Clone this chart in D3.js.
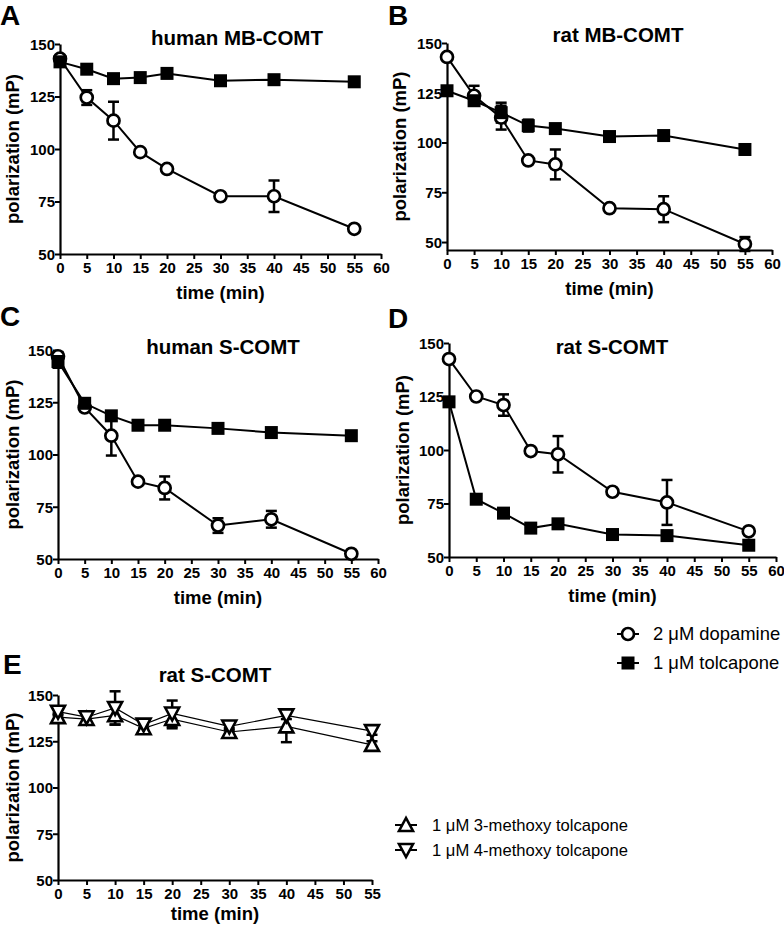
<!DOCTYPE html>
<html><head><meta charset="utf-8">
<script src="https://cdn.jsdelivr.net/npm/d3@7"></script>
<style>body{margin:0;background:#fff}svg{display:block}text{font-family:Arial,"Liberation Sans",sans-serif}</style>
</head><body>
<svg id="c" width="784" height="925"></svg>
<script>
const times = [0, 5, 10, 15, 20, 30, 40, 55];
const xTicksFull = [0, 5, 10, 15, 20, 25, 30, 35, 40, 45, 50, 55, 60];
const xTicksE = [0, 5, 10, 15, 20, 25, 30, 35, 40, 45, 50, 55];
const yTicks = [50, 75, 100, 125, 150];

const A_dopamine = [143, 124.5, 113.5, 98.5, 90.5, 77.5, 77.5, 62];
const A_dopamineErr = [1.5, 3.5, 9, 1, 1, 1, 7.5, 1];
const A_tolcapone = [141.5, 138, 133.5, 134, 136, 132.5, 133, 132];
const A_tolcaponeErr = [1, 1, 1, 1, 1, 1, 1, 1];

const B_dopamine = [143, 123.5, 112.5, 91, 89, 67, 66.5, 49];
const B_dopamineErr = [1, 5, 6, 1.5, 7.5, 1, 6.5, 3.5];
const B_tolcapone = [126, 121, 115, 108.5, 107, 103, 103.5, 96.5];
const B_tolcaponeErr = [1, 2, 5, 3, 1, 1, 1, 1];

const C_dopamine = [147, 122.5, 109, 87, 84, 66, 69, 52.5];
const C_dopamineErr = [2, 1, 9.5, 1, 5.5, 3.5, 4, 1];
const C_tolcapone = [144.5, 124.5, 118.5, 114, 114, 112.5, 110.5, 109];
const C_tolcaponeErr = [3, 1.5, 2, 1, 1, 1, 1, 1];

const D_dopamine = [142.5, 125, 121, 99.5, 98, 80.5, 75.5, 62];
const D_dopamineErr = [1, 1, 5, 1, 8.5, 1, 10.5, 1];
const D_tolcapone = [122.5, 77, 70.5, 63.5, 65.5, 60.5, 60, 55.5];
const D_tolcaponeErr = [1, 1, 1, 1, 1, 1, 1, 1];

const E_methoxy3 = [138, 137, 139, 132, 137, 130, 133, 123];
const E_methoxy3Err = [2, 2, 5, 2, 5, 2, 8.5, 2];
const E_methoxy4 = [141, 138, 143, 134, 140, 133, 139, 130.5];
const E_methoxy4Err = [2, 2, 9, 2, 7, 2, 2, 2];

const titles = ["human MB-COMT", "rat MB-COMT", "human S-COMT", "rat S-COMT", "rat S-COMT"];
const letters = ["A", "B", "C", "D", "E"];
const legend1 = ["2 \u03BCM dopamine", "1 \u03BCM tolcapone"];
const legend2 = ["1 \u03BCM 3-methoxy tolcapone", "1 \u03BCM 4-methoxy tolcapone"];

const svg = d3.select("#c");

const panels = [
  {L:60, R:381, xMax:60, xt:xTicksFull, yMin:50, yTop:44, yBot:254, letter:[0,25], title:[237,45], ylab:13, xlab:45,
   series:[{y:A_dopamine,e:A_dopamineErr,m:"circle"},{y:A_tolcapone,e:A_tolcaponeErr,m:"square"}]},
  {L:447, R:772, xMax:60, xt:xTicksFull, yMin:46, yTop:43, yBot:250, letter:[388,25], title:[618,42], ylab:400, xlab:45,
   series:[{y:B_dopamine,e:B_dopamineErr,m:"circle"},{y:B_tolcapone,e:B_tolcaponeErr,m:"square"}]},
  {L:58, R:378, xMax:60, xt:xTicksFull, yMin:50, yTop:350, yBot:559, letter:[0,326], title:[223,354], ylab:13, xlab:45,
   series:[{y:C_dopamine,e:C_dopamineErr,m:"circle"},{y:C_tolcapone,e:C_tolcaponeErr,m:"square"}]},
  {L:449, R:776, xMax:60, xt:xTicksFull, yMin:50, yTop:343, yBot:557, letter:[388,328], title:[612,354], ylab:403, xlab:45,
   series:[{y:D_dopamine,e:D_dopamineErr,m:"circle"},{y:D_tolcapone,e:D_tolcaponeErr,m:"square"}]},
  {L:58, R:372, xMax:55, xt:xTicksE, yMin:50, yTop:695, yBot:880, letter:[3,674], title:[215,682], ylab:13, xlab:40, thin:true,
   series:[{y:E_methoxy3,e:E_methoxy3Err,m:"up"},{y:E_methoxy4,e:E_methoxy4Err,m:"down"}]}
];

function marker(g, type, x, y) {
  if (type === "circle") {
    g.append("circle").attr("cx", x).attr("cy", y).attr("r", 6)
      .attr("fill", "#fff").attr("stroke", "#000").attr("stroke-width", 2.7);
  } else if (type === "square") {
    g.append("rect").attr("x", x - 6.5).attr("y", y - 6.5).attr("width", 13).attr("height", 13).attr("fill", "#000");
  } else {
    const s = 7, d = type === "up" ? 1 : -1;
    const pts = [[x, y - d * s], [x - s, y + d * s * 0.85], [x + s, y + d * s * 0.85]];
    g.append("path").attr("d", "M" + pts.map(p => p.join(",")).join("L") + "Z")
      .attr("fill", "#fff").attr("stroke", "#000").attr("stroke-width", 2.6).attr("stroke-linejoin", "miter");
  }
}

panels.forEach((p, i) => {
  const g = svg.append("g");
  const x = d3.scaleLinear().domain([0, p.xMax]).range([p.L, p.R]);
  const y = d3.scaleLinear().domain([p.yMin, 150]).range([p.yBot, p.yTop]);

  const yAx = g.append("g").attr("transform", `translate(${p.L},0)`)
    .call(d3.axisLeft(y).tickValues(yTicks).tickSize(5).tickSizeOuter(0));
  const xAx = g.append("g").attr("transform", `translate(0,${p.yBot})`)
    .call(d3.axisBottom(x).tickValues(p.xt).tickSize(5).tickSizeOuter(0));
  [yAx, xAx].forEach(a => {
    a.select(".domain").attr("stroke-width", 2.2);
    a.selectAll(".tick line").attr("stroke-width", 2);
    a.selectAll(".tick text").attr("font-size", 15).attr("font-weight", "bold").attr("fill", "#000")
      .attr("font-family", "Arial, 'Liberation Sans', sans-serif");
  });
  yAx.selectAll(".tick text").attr("x", -5).attr("dy", "0.35em");
  xAx.selectAll(".tick text").attr("y", 8);

  g.append("text").attr("x", (p.L + p.R) / 2).attr("y", p.yBot + p.xlab)
    .attr("text-anchor", "middle").attr("font-size", 18.5).attr("font-weight", "bold").text("time (min)");
  g.append("text").attr("transform", `translate(${p.ylab},${(p.yTop + p.yBot) / 2}) rotate(-90)`)
    .attr("text-anchor", "middle").attr("dy", "0.35em").attr("font-size", 18.5).attr("font-weight", "bold")
    .text("polarization (mP)");
  g.append("text").attr("x", p.title[0]).attr("y", p.title[1]).attr("text-anchor", "middle")
    .attr("font-size", 20.5).attr("font-weight", "bold").text(titles[i]);
  g.append("text").attr("x", p.letter[0]).attr("y", p.letter[1]).attr("font-size", 28)
    .attr("font-weight", "bold").text(letters[i]);

  const line = d3.line().x((d, j) => x(times[j])).y(d => y(d));
  p.series.forEach(s => {
    g.append("path").attr("d", line(s.y)).attr("fill", "none").attr("stroke", "#000")
      .attr("stroke-width", p.thin ? 1.2 : 2);
  });
  p.series.forEach(s => {
    s.y.forEach((v, j) => {
      const cx = x(times[j]), y1 = y(v + s.e[j]), y2 = y(v - s.e[j]);
      g.append("line").attr("x1", cx).attr("x2", cx).attr("y1", y1).attr("y2", y2).attr("stroke", "#000").attr("stroke-width", 2.5);
      [y1, y2].forEach(yy => g.append("line").attr("x1", cx - 5.5).attr("x2", cx + 5.5).attr("y1", yy).attr("y2", yy)
        .attr("stroke", "#000").attr("stroke-width", 2.5));
    });
  });
  p.series.forEach(s => {
    s.y.forEach((v, j) => marker(g, s.m, x(times[j]), y(v)));
  });
});

// legends
function legend(items, types, lx, ty, y0, dy, fs) {
  items.forEach((t, i) => {
    const yy = y0 + i * dy;
    svg.append("line").attr("x1", lx - 11).attr("x2", lx + 11).attr("y1", yy).attr("y2", yy)
      .attr("stroke", "#000").attr("stroke-width", 2);
    marker(svg, types[i], lx, yy);
    svg.append("text").attr("x", ty).attr("y", yy).attr("dy", "0.35em").attr("font-size", fs).text(t);
  });
}
legend(legend1, ["circle", "square"], 628, 653, 634, 29, 18.4);
legend(legend2, ["up", "down"], 406, 432, 825, 25, 16.6);
</script>
</body></html>
